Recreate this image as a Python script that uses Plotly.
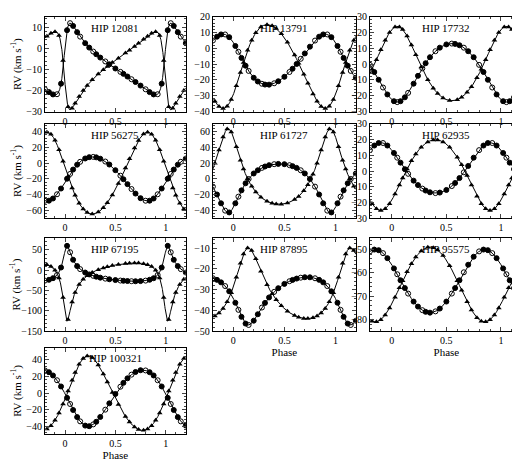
import numpy as np
import plotly.graph_objects as go

# orbital elements
names = ["HIP 12081", "HIP 13791", "HIP 17732", "HIP 56275", "HIP 61727",
         "HIP 62935", "HIP 67195", "HIP 87895", "HIP 95575", "HIP 100321"]
gamma = [-7.7, -8.7, -2.9, -17.4, -1.0, 0.1, -10.0, -32.0, -64.2, -3.6]
k1 = [17.0, 16.0, 18.5, 28.0, 31.0, 16.0, 43.5, 11.5, 13.5, 34.0]
k2 = [18.5, 26.5, 23.5, 52.0, 48.0, 22.5, 71.5, 17.0, 16.0, 45.0]
ecc = [0.6, 0.15, 0.14, 0.12, 0.35, 0.12, 0.65, 0.32, 0.05, 0.1]
omega = [285, 45, 180, 220, 180, 0, 340, 160, 0, 140]
phase_max1 = [0.05, -0.1, 0.55, 0.27, 0.45, -0.1, 0.02, 0.72, 0.85, 0.77]
yranges = [(-30, 15), (-40, 20), (-30, 30), (-70, 50), (-50, 70),
           (-30, 30), (-150, 80), (-50, -5), (-85, -45), (-50, 55)]
ydticks = [10, 10, 10, 20, 20, 10, 50, 10, 10, 20]

# observed phases (primary / secondary)
obs1 = [0.02, 0.05, 0.08, 0.12, 0.15, 0.2, 0.24, 0.28, 0.31, 0.35, 0.4, 0.44,
        0.5, 0.55, 0.58, 0.62, 0.66, 0.7, 0.75, 0.8, 0.84, 0.88, 0.92, 0.96]
obs2 = [0.03, 0.07, 0.1, 0.14, 0.18, 0.22, 0.27, 0.33, 0.38, 0.42, 0.47, 0.53,
        0.6, 0.64, 0.69, 0.73, 0.78, 0.82, 0.86, 0.9, 0.94, 0.98]


def kepler_nu(M, e):
    E = M.copy()
    for _ in range(60):
        E = E - (E - e * np.sin(E) - M) / (1 - e * np.cos(E))
    return 2 * np.arctan2(np.sqrt(1 + e) * np.sin(E / 2), np.sqrt(1 - e) * np.cos(E / 2))


def curve(i, ph):
    e, w = ecc[i], np.radians(omega[i])
    nu0 = -w
    E0 = 2 * np.arctan2(np.sqrt(1 - e) * np.sin(nu0 / 2), np.sqrt(1 + e) * np.cos(nu0 / 2))
    M0 = E0 - e * np.sin(E0)
    tp = phase_max1[i] - M0 / (2 * np.pi)
    M = 2 * np.pi * ((np.asarray(ph) - tp) % 1.0)
    nu = kepler_nu(M, e)
    c = np.cos(nu + w) + e * np.cos(w)
    return gamma[i] + k1[i] * c, gamma[i] - k2[i] * c


def wrap(p):
    p = np.array(p)
    p = np.concatenate([p - 1, p, p + 1])
    return p[(p >= -0.2) & (p <= 1.2)]


xdom = [(0.071, 0.342), (0.394, 0.669), (0.696, 0.99)]
ydom = [(0.784, 0.994), (0.548, 0.757), (0.298, 0.505), (0.07, 0.262)]
font = "Liberation Serif"

fig = go.Figure()
ph = np.linspace(-0.2, 1.2, 700)
for i in range(len(names)):
    r, c = divmod(i, 3)
    ax = "" if i == 0 else str(i + 1)
    xa, ya = "x" + ax, "y" + ax
    v1, v2 = curve(i, ph)
    for v in (v1, v2):
        fig.add_trace(go.Scatter(x=ph, y=v, mode="lines", line=dict(color="black", width=1),
                                 xaxis=xa, yaxis=ya, showlegend=False))
    p1, p2 = wrap(obs1), wrap(obs2)
    a1, _ = curve(i, p1)
    _, b2 = curve(i, p2)
    syms = ["circle" if j % 3 else "circle-open" for j in range(len(p1))]
    fig.add_trace(go.Scatter(x=p1, y=a1, mode="markers", xaxis=xa, yaxis=ya, showlegend=False,
                             marker=dict(symbol=syms, size=5, color="black",
                                         line=dict(width=1, color="black"))))
    fig.add_trace(go.Scatter(x=p2, y=b2, mode="markers", xaxis=xa, yaxis=ya, showlegend=False,
                             marker=dict(symbol="triangle-up", size=5, color="black")))
    axis = dict(range=[-0.2, 1.2], tickvals=[0, 0.5, 1], ticktext=["0", "0.5", "1"],
                ticks="inside", ticklen=4, mirror="allticks", showline=True, linecolor="black",
                linewidth=1, showgrid=False, zeroline=False, domain=xdom[c],
                anchor=ya, tickfont=dict(family=font, size=10, color="black"),
                minor=dict(ticks="inside", ticklen=2, dtick=0.1, tick0=0))
    if i in (7, 8, 9):
        axis["title"] = dict(text="Phase", font=dict(family=font, size=11, color="black"), standoff=0)
    yaxis = dict(range=list(yranges[i]), dtick=ydticks[i], ticks="inside", ticklen=4,
                 mirror="allticks", showline=True, linecolor="black", linewidth=1,
                 showgrid=False, zeroline=False, domain=ydom[r], anchor=xa,
                 tickfont=dict(family=font, size=10, color="black"),
                 minor=dict(ticks="inside", ticklen=2, dtick=ydticks[i] / 5))
    if c == 0:
        yaxis["title"] = dict(text="RV (km s<sup>-1</sup>)", font=dict(family=font, size=11, color="black"), standoff=2)
    fig.update_layout({"xaxis" + ax: axis, "yaxis" + ax: yaxis})
    fig.add_annotation(text=names[i], x=0.5, y=0.97, xref=xa + " domain", yref=ya + " domain",
                       showarrow=False, yanchor="top", bgcolor="rgba(255,255,255,0)",
                       font=dict(family=font, size=11, color="black"))

fig.update_layout(width=520, height=464, margin=dict(l=0, r=0, t=0, b=0),
                  plot_bgcolor="white", paper_bgcolor="white")
fig.write_html("out.html")
